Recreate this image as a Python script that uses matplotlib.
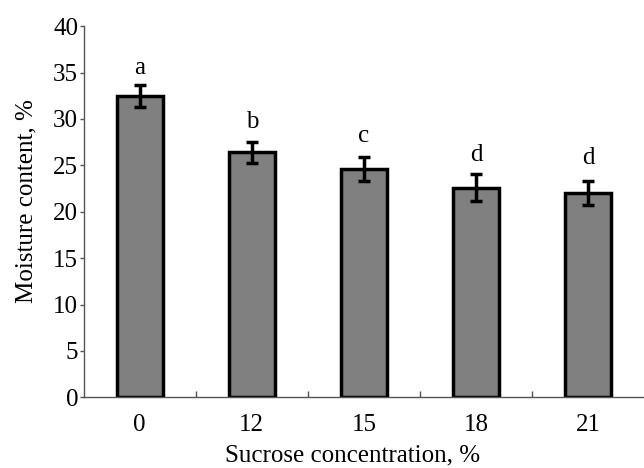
"""
Moisture content vs sucrose concentration bar chart
"""
import matplotlib
matplotlib.use('Agg')
import matplotlib.pyplot as plt

# data
concentrations = ['0', '12', '15', '18', '21']
moisture = [32.5, 26.4, 24.6, 22.6, 22.0]
moisture_err = [1.2, 1.15, 1.25, 1.45, 1.3]
letters = ['a', 'b', 'c', 'd', 'd']
letter_y = [34.9, 29.0, 27.5, 25.5, 25.1]  # baseline of each letter, data units

plt.rcParams['font.family'] = ['Liberation Serif', 'DejaVu Serif']

fig = plt.figure(figsize=(6.44, 4.68), dpi=100)
ax = fig.add_axes([0.130, 0.151, 0.870, 0.793])

x = range(len(concentrations))
ax.bar(x, moisture, width=0.41, color='#808080', edgecolor='black', linewidth=2.5, zorder=2)
ax.errorbar(x, moisture, yerr=moisture_err, fmt='none', ecolor='black',
            elinewidth=2.5, capsize=4.5, capthick=2.5, zorder=3)

# significance letters
for i, (ly, lab) in enumerate(zip(letter_y, letters)):
    ax.text(i, ly, lab, ha='center', va='baseline', fontsize=18)

ax.set_xlim(-0.5, len(concentrations) - 0.5)
ax.set_ylim(0, 40)
ax.set_yticks(range(0, 41, 5))
ax.tick_params(axis='y', labelsize=18, length=3, width=1, color='#555555', pad=1)

# category labels centred, tick marks between bars
ax.set_xticks([i + 0.5 for i in range(len(concentrations) - 1)])
ax.set_xticklabels([])
ax.set_xticks(list(x), minor=True)
ax.set_xticklabels(concentrations, minor=True, fontsize=18)
ax.tick_params(axis='x', which='major', direction='in', length=4, width=1, color='#555555')
ax.tick_params(axis='x', which='minor', length=0, pad=12)

for side in ['top', 'right']:
    ax.spines[side].set_visible(False)
for side in ['left', 'bottom']:
    ax.spines[side].set_color('#555555')
    ax.spines[side].set_linewidth(1)

ax.set_ylabel('Moisture content, %', fontsize=18, labelpad=11, y=0.53)
ax.set_xlabel('Sucrose concentration, %', fontsize=18, labelpad=6, x=0.48)

plt.savefig('out.png', dpi=100)
